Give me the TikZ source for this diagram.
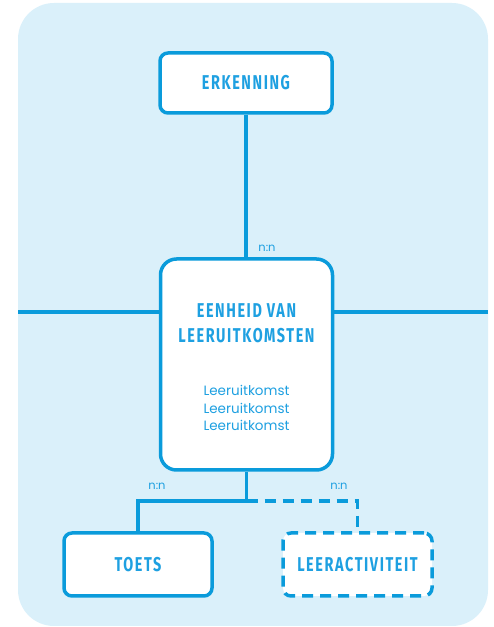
\documentclass[tikz,border=0pt]{standalone}
\usepackage{fontspec}
\setmainfont{Poppins}
\newfontfamily\titelfont[FakeStretch=0.72,LetterSpace=8]{Fira Sans}
\usetikzlibrary{positioning}

\definecolor{lijnblauw}{RGB}{10,155,219}
\definecolor{tekstblauw}{RGB}{30,160,225}
\definecolor{vlak}{RGB}{218,240,250}

\tikzset{
  entiteit/.style={draw=lijnblauw, fill=white, line width=3.5pt, rounded corners=8pt, inner sep=0pt},
  titel/.style={text=tekstblauw, font=\titelfont\bfseries\fontsize{20}{25}\selectfont, align=center},
  lijn/.style={draw=lijnblauw, line width=3.5pt},
  stippel/.style={dash pattern=on 11pt off 7pt},
  card/.style={text=tekstblauw, font=\fontsize{11.5}{12}\selectfont},
}

\begin{document}
\begin{tikzpicture}[x=1pt,y=1pt]
\useasboundingbox (0,0) rectangle (494,627);
\fill[vlak, rounded corners=36pt] (18,1) rectangle (488,624);

\node[entiteit, minimum width=172, minimum height=60] (erkenning) at (246,544) {};
\node[titel] (erkenningtitel) at (erkenning) {ERKENNING};

\node[entiteit, rounded corners=16pt, minimum width=172, minimum height=211] (eenheid) at (246.5,262.5) {};
\node[titel] (eenheidtitel) at (246.5,304) {EENHEID VAN\\LEERUITKOMSTEN};
\node[text=tekstblauw, font=\fontsize{13.5}{17.5}\selectfont, align=center] (uitkomsten) at (246.5,219)
  {Leeruitkomst\\Leeruitkomst\\Leeruitkomst};

\node[entiteit, minimum width=148, minimum height=63] (toets) at (138,62.5) {};
\node[titel] (toetstitel) at (toets) {TOETS};

\node[entiteit, stippel, minimum width=149, minimum height=63] (leeractiviteit) at (357.5,62.5) {};
\node[titel] (leeractiviteittitel) at (leeractiviteit) {LEERACTIVITEIT};

\coordinate (links) at (18,315);
\coordinate (rechts) at (488,315);
\coordinate (splitsing) at (246.5,126);

\draw[lijn] (erkenning.south) -- (erkenning.south |- eenheid.north);
\draw[lijn] (links) -- (links -| eenheid.west);
\draw[lijn] (rechts) -- (rechts -| eenheid.east);
\draw[lijn] (eenheid.south) -- (splitsing) -| (toets.north);
\draw[lijn, stippel] (splitsing) -| (leeractiviteit.north);

\node[card] (kard1) at (267,379) {n:n};
\node[card] (kard2) at (157,141) {n:n};
\node[card] (kard3) at (339,141) {n:n};
\end{tikzpicture}
\end{document}
